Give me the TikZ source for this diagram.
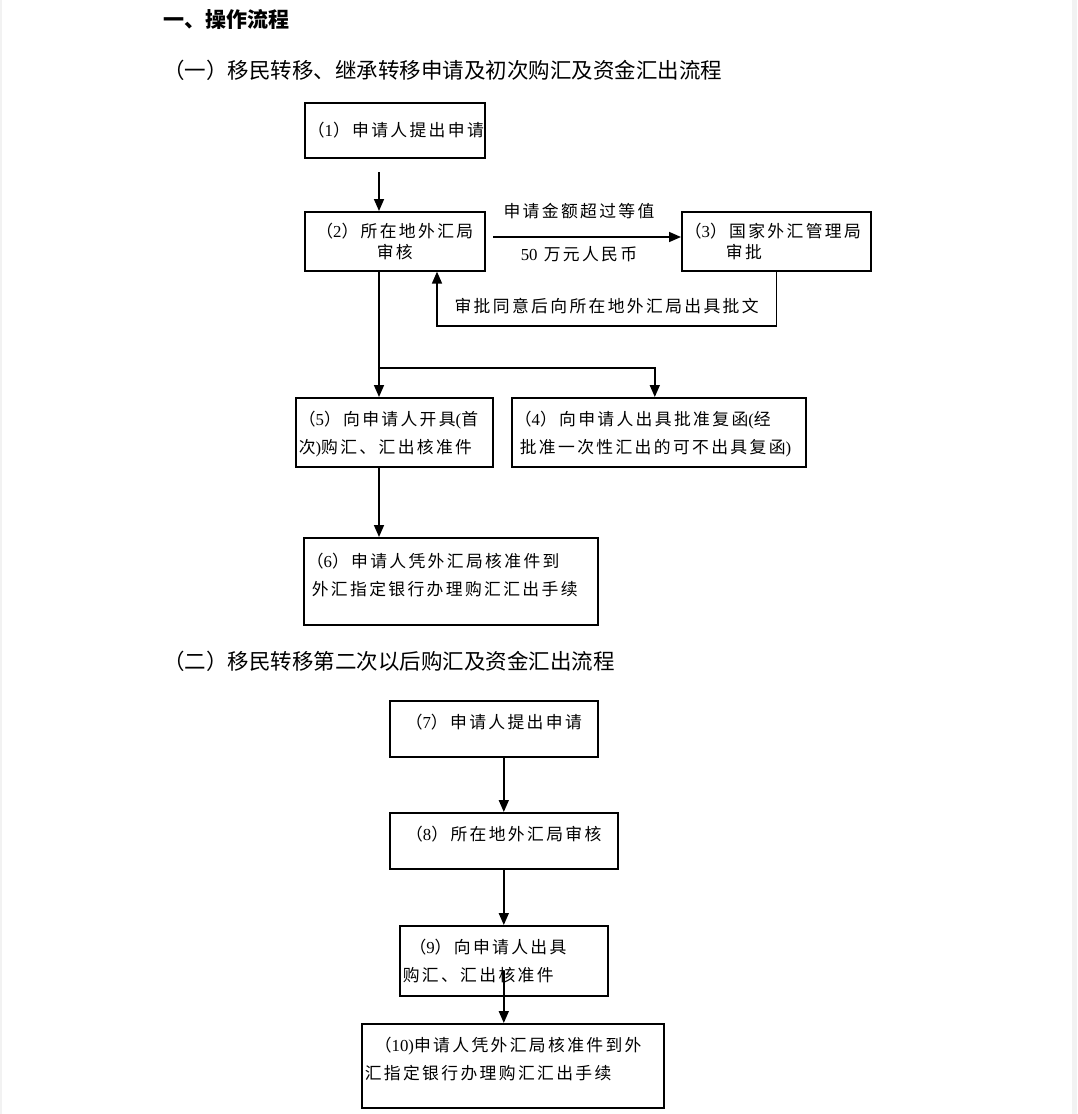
\documentclass[tikz,border=0pt]{standalone}
\usepackage{fontspec}
\usetikzlibrary{arrows.meta,positioning}
\setmainfont{Noto Sans CJK SC}
\newfontfamily\boxfont{Noto Sans CJK SC}[LetterSpace=14]
\newfontfamily\numfont{Liberation Serif}
\newcommand{\nm}[1]{{\numfont #1}}
\definecolor{pagegray}{HTML}{F2F2F2}
\tikzset{
  box/.style={draw, line width=1.6pt, anchor=north west, align=left, inner xsep=3pt, inner ysep=0pt,
    font=\boxfont\fontsize{16.8}{28}\selectfont},
  tight/.style={font=\boxfont\fontsize{16.8}{21}\selectfont},
  arr/.style={line width=1.6pt, -{Triangle[length=12pt,width=10pt]}},
  line/.style={line width=1.6pt},
  lbl/.style={inner sep=0pt, font=\boxfont\fontsize{16.8}{21}\selectfont},
  head/.style={anchor=west, inner sep=0pt, font=\fontsize{21.5}{24}\selectfont}
}
\begin{document}
\begin{tikzpicture}[x=1pt, y=-1pt]
\useasboundingbox (0,0) rectangle (1077,1114);
\fill[pagegray] (0,0) rectangle (1.5,1114);
\fill[pagegray] (1072,0) rectangle (1077,1114);

% headings
\node[head, font=\bfseries\fontsize{21}{24}\selectfont] (h0) at (163,20) {一、操作流程};
\node[head] (h1) at (163,70) {（一）移民转移、继承转移申请及初次购汇及资金汇出流程};
\node[head] (h2) at (163,661) {（二）移民转移第二次以后购汇及资金汇出流程};

% part one
\node[box, text width=174pt, minimum height=55pt] (s1) at (304,102) {（\nm{1}）申请人提出申请};
\node[box, tight, align=center, text width=174pt, minimum height=59pt] (s2) at (304,211) {（\nm{2}）所在地外汇局\\审核};
\node[box, tight, text width=183pt, minimum height=59pt] (s3) at (681,211) {（\nm{3}）国家外汇管理局\\\hspace*{2.45em}审批};
\node[box, text width=191pt, minimum height=69pt, text depth=27pt] (s5) at (295,397) {（\nm{5}）向申请人开具\nm{(}首\\次\nm{)}购汇、汇出核准件};
\node[box, text width=288pt, minimum height=69pt, text depth=27pt] (s4) at (511,397) {（\nm{4}）向申请人出具批准复函\nm{(}经\\\hspace*{5pt}批准一次性汇出的可不出具复函\nm{)}};
\node[box, text width=288pt, minimum height=87pt, text depth=41pt] (s6) at (303,537) {（\nm{6}）申请人凭外汇局核准件到\\\hspace*{5pt}外汇指定银行办理购汇汇出手续};

\coordinate (c1) at (379,172);
\draw[arr] (c1) -- (c1 |- s2.north);
\coordinate (c2) at (493,237);
\draw[arr] (c2) -- (c2 -| s3.west)
  node[lbl, midway, above=17pt, xshift=-8pt] (q1) {申请金额超过等值}
  node[lbl, midway, below=9pt, xshift=-8pt] (q2) {\nm{50} 万元人民币};
\coordinate (back) at (437,326);
\draw[arr] (s3.south) |- (back) node[lbl, pos=0.75, above=11pt] (q3) {审批同意后向所在地外汇局出具批文} -- (back |- s2.south);
\coordinate (split) at (379,368);
\draw[line] (split |- s2.south) -- (split);
\draw[arr] (split) -- (split |- s5.north);
\draw[arr] (split) -| ([xshift=-4pt]s4.north);
\draw[arr] (split |- s5.south) -- (split |- s6.north);

% part two
\node[box, align=center, text width=202pt, minimum height=56pt, text depth=16pt] (t7) at (389,700) {（\nm{7}）申请人提出申请};
\node[box, align=center, text width=222pt, minimum height=56pt, text depth=16pt] (t8) at (389,812) {（\nm{8}）所在地外汇局审核};
\node[box, text width=202pt, minimum height=70pt] (t9) at (399,925) {\hspace*{0.4em}（\nm{9}）向申请人出具\\购汇、汇出核准件};
\node[box, text width=296pt, minimum height=84pt, text depth=43pt] (t10) at (361,1023) {\hspace*{0.6em}（\nm{10)}申请人凭外汇局核准件到外\\汇指定银行办理购汇汇出手续};

\draw[arr] (t8.north |- t7.south) -- (t8.north);
\draw[arr] (t8.south) -- (t9.north);
\draw[arr] ([yshift=-10pt]t9.center) -- (t9.center |- t10.north);
\end{tikzpicture}
\end{document}
